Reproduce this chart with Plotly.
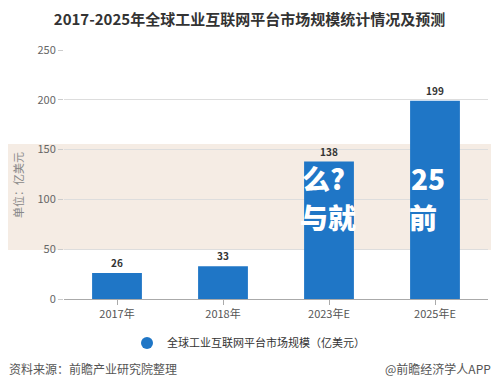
import plotly.graph_objects as go

categories = ["2017年", "2018年", "2023年E", "2025年E"]
values = [26, 33, 138, 199]
series_name = "全球工业互联网平台市场规模（亿美元）"
title_text = "2017-2025年全球工业互联网平台市场规模统计情况及预测"
y_title = "单位：亿美元"
source_text = "资料来源：前瞻产业研究院整理"
brand_text = "@前瞻经济学人APP"
y_ticks = [0, 50, 100, 150, 200, 250]

FONT = "Noto Sans CJK SC"
BAR = "#1f76c6"

# page body has an 8px default margin; work in reference pixels and shift
OFF = 8
W, H = 499 - OFF, 392 - OFF
PL, PR, PT, PB = 64 - OFF, 11, 50 - OFF, 93
pw = W - PL - PR
ph = H - PT - PB

def px(x):
    return (x - OFF - PL) / pw

def py(y):
    return (H - PB - (y - OFF)) / ph

fig = go.Figure()
fig.add_trace(go.Bar(
    x=categories, y=values, name=series_name,
    marker=dict(color=BAR, line=dict(width=0)),
    text=[str(v) for v in values], textposition="outside",
    textfont=dict(family=FONT, size=10, color="#333333", weight="bold"),
    cliponaxis=False, showlegend=False,
))
fig.add_trace(go.Scatter(x=[categories[0]], y=[None], mode="markers", name=series_name,
                         marker=dict(color=BAR, size=11, symbol="circle"), showlegend=True,
                         hoverinfo="skip"))

fig.update_layout(
    width=W, height=H,
    margin=dict(l=PL, r=PR, t=PT, b=PB),
    paper_bgcolor="white", plot_bgcolor="white",
    font=dict(family=FONT, color="#555555"),
    bargap=0.53,
    title=dict(text=title_text, x=(249.5 - OFF) / W, xanchor="center",
               y=1 - (19.5 - OFF) / H, yanchor="middle",
               font=dict(family=FONT, size=15, color="#333333", weight="bold")),
    showlegend=True,
    legend=dict(orientation="h", x=px(127), xanchor="left", y=py(343), yanchor="middle",
                font=dict(family=FONT, size=11, color="#333333"), itemsizing="constant",
                bgcolor="rgba(0,0,0,0)"),
    xaxis=dict(showgrid=False, showline=True, linecolor="#aaaaaa", linewidth=1,
               ticks="outside", ticklen=5, tickcolor="#aaaaaa",
               tickfont=dict(family=FONT, size=11, color="#555555")),
    yaxis=dict(range=[0, 250], tickvals=y_ticks, showgrid=True, gridcolor="#dddddd",
               zeroline=False, showline=False, ticks="outside", ticklen=5, tickcolor="#cccccc",
               tickfont=dict(family=FONT, size=11, color="#666666")),
)

# overlay band
fig.add_shape(type="rect", xref="paper", yref="paper",
              x0=px(0), x1=px(499), y0=py(250), y1=py(144),
              fillcolor="#f5ece4", line=dict(width=0), layer="below")

annos = [
    dict(text=y_title, x=px(18), y=py(185), textangle=-90, font=dict(size=11, color="#888888")),
    dict(text=source_text, x=px(7), y=py(368), xanchor="left", font=dict(size=12, color="#555555")),
    dict(text=brand_text, x=px(493), y=py(368), xanchor="right", font=dict(size=12, color="#555555")),
    dict(text="么?", x=px(323), y=py(178), font=dict(size=28, color="white", weight=900)),
    dict(text="25", x=px(428), y=py(178), font=dict(size=28, color="white", weight=900)),
    dict(text="与就", x=px(328), y=py(217), font=dict(size=28, color="white", weight=900)),
    dict(text="前", x=px(423), y=py(217), font=dict(size=28, color="white", weight=900)),
]
for a in annos:
    a.setdefault("xanchor", "center")
    a.update(xref="paper", yref="paper", showarrow=False, yanchor="middle")
    a["font"]["family"] = FONT
    fig.add_annotation(**a)

fig.write_html("out.html")
